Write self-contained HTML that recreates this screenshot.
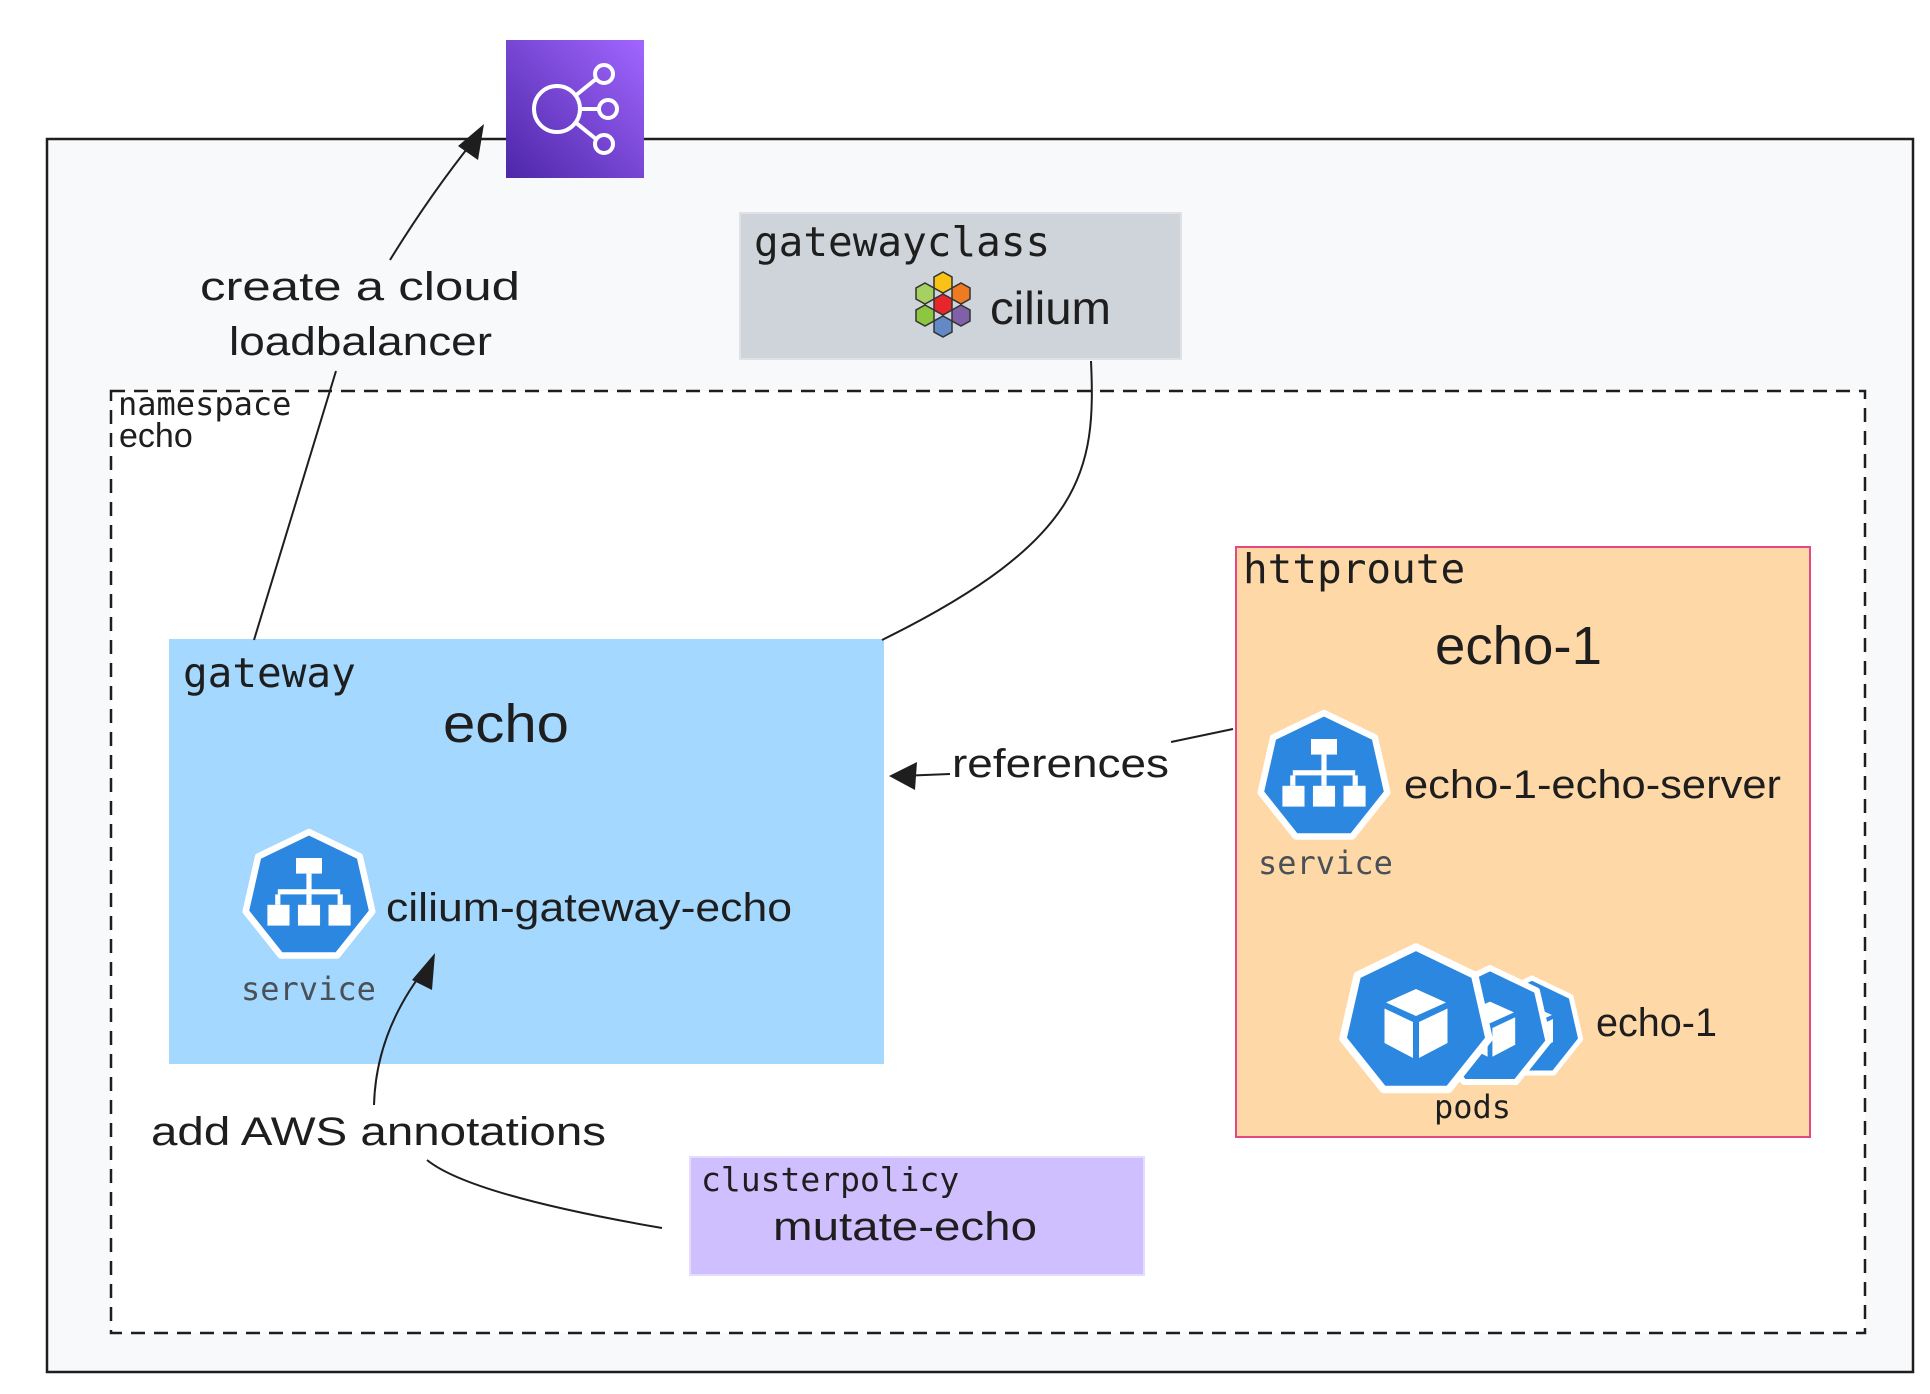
<!DOCTYPE html>
<html><head><meta charset="utf-8"><style>
html,body{margin:0;padding:0;background:#fff;}
svg{display:block;}
.m{font-family:"DejaVu Sans Mono","Liberation Mono",monospace;fill:#1e1e1e;}
.h{font-family:"Liberation Sans",sans-serif;fill:#1e1e1e;}
</style></head><body>
<svg width="1930" height="1394" viewBox="0 0 1930 1394" xmlns="http://www.w3.org/2000/svg">
<defs>
<linearGradient id="lb" x1="0" y1="1" x2="1" y2="0">
<stop offset="0" stop-color="#4d27a8"/><stop offset="1" stop-color="#a166ff"/></linearGradient>
<g id="hep"><polygon points="0,-50 39.1,-31.2 48.7,11.1 21.7,45 -21.7,45 -48.7,11.1 -39.1,-31.2" fill="#2b87e0" stroke="#fff" stroke-width="5" stroke-linejoin="round"/></g>
<g id="svc"><use href="#hep"/>
<g fill="#fff"><rect x="-10" y="-30" width="20" height="12"/><rect x="-2" y="-18" width="4" height="14"/><rect x="-24" y="-6" width="48" height="4"/>
<rect x="-26" y="-2" width="4" height="8"/><rect x="-2" y="-2" width="4" height="8"/><rect x="22" y="-2" width="4" height="8"/>
<rect x="-32" y="6" width="17" height="16"/><rect x="-8.5" y="6" width="17" height="16"/><rect x="15" y="6" width="17" height="16"/></g></g>
<g id="pod"><use href="#hep"/><g fill="#fff"><polygon points="0,-22 20,-13 0,-4 -20,-13"/><polygon points="-21,-9 -2,0 -2,24 -21,14"/><polygon points="21,-9 2,0 2,24 21,14"/></g></g>
</defs>
<rect x="47" y="139" width="1866" height="1233" fill="#f8f9fa" stroke="#1e1e1e" stroke-width="2.5"/>
<rect x="506" y="40" width="138" height="138" fill="url(#lb)"/>
<g fill="none" stroke="#fff" stroke-width="4">
<circle cx="557" cy="109" r="23"/><circle cx="604" cy="74" r="9"/><circle cx="608" cy="109" r="9"/><circle cx="604" cy="144" r="9"/>
<path d="M580 109 H599 M575 96 L596 79 M575 122 L596 139"/></g>
<rect x="740" y="213" width="441" height="146" fill="#ced4da" stroke="#dee2e6" stroke-width="2"/>
<text x="754" y="256" class="m" font-size="41">gatewayclass</text>
<g stroke="#333" stroke-width="1.5">
<polygon points="943,272 952,277 952,288 943,293 934,288 934,277" fill="#f8c315"/>
<polygon points="925,283 934,288 934,299 925,304 916,299 916,288" fill="#a7d063"/>
<polygon points="961,283 970,288 970,299 961,304 952,299 952,288" fill="#ee7a22"/>
<polygon points="943,294 952,299 952,310 943,315 934,310 934,299" fill="#e82629"/>
<polygon points="925,305 934,310 934,321 925,326 916,321 916,310" fill="#8dc63f"/>
<polygon points="961,305 970,310 970,321 961,326 952,321 952,310" fill="#8061a9"/>
<polygon points="943,316 952,321 952,332 943,337 934,332 934,321" fill="#6389c6"/>
</g>
<text x="990" y="324" class="h" font-size="46" textLength="121" lengthAdjust="spacingAndGlyphs">cilium</text>
<rect x="111" y="391" width="1754" height="942" fill="#fff" stroke="#1e1e1e" stroke-width="2.5" stroke-dasharray="14 9"/>
<rect x="115" y="393" width="190" height="62" fill="#fff"/>
<text x="118" y="415" class="m" font-size="32">namespace</text>
<text x="119" y="447" class="h" font-size="34">echo</text>
<rect x="169" y="639" width="715" height="425" fill="#a5d8ff"/>
<text x="183" y="687" class="m" font-size="41">gateway</text>
<text x="443" y="742" class="h" font-size="54" textLength="126" lengthAdjust="spacingAndGlyphs">echo</text>
<use href="#svc" transform="translate(309,897) scale(1.3)"/>
<text x="386" y="921" class="h" font-size="40" textLength="406" lengthAdjust="spacingAndGlyphs">cilium-gateway-echo</text>
<text x="241" y="1000" class="m" font-size="32" style="fill:#495057">service</text>
<rect x="1236" y="547" width="574" height="590" fill="#ffd8a8" stroke="#e64980" stroke-width="2"/>
<text x="1243" y="583" class="m" font-size="41">httproute</text>
<text x="1435" y="664" class="h" font-size="54" textLength="167" lengthAdjust="spacingAndGlyphs">echo-1</text>
<use href="#svc" transform="translate(1324,778) scale(1.3)"/>
<text x="1404" y="798" class="h" font-size="40" textLength="377" lengthAdjust="spacingAndGlyphs">echo-1-echo-server</text>
<text x="1258" y="874" class="m" font-size="32" style="fill:#495057">service</text>
<use href="#pod" transform="translate(1532,1028) scale(1.0)"/>
<use href="#pod" transform="translate(1490,1028) scale(1.2)"/>
<use href="#pod" transform="translate(1416,1022) scale(1.5)"/>
<text x="1596" y="1036" class="h" font-size="40" textLength="121" lengthAdjust="spacingAndGlyphs">echo-1</text>
<text x="1434" y="1118" class="m" font-size="32">pods</text>
<rect x="690" y="1157" width="454" height="118" fill="#d0bfff" stroke="#e5dbff" stroke-width="2"/>
<text x="701" y="1191" class="m" font-size="33">clusterpolicy</text>
<text x="773" y="1240" class="h" font-size="40" textLength="264" lengthAdjust="spacingAndGlyphs">mutate-echo</text>
<text x="200" y="300" class="h" font-size="40" textLength="320" lengthAdjust="spacingAndGlyphs">create a cloud</text>
<text x="229" y="355" class="h" font-size="40" textLength="263" lengthAdjust="spacingAndGlyphs">loadbalancer</text>
<text x="952" y="777" class="h" font-size="40" textLength="217" lengthAdjust="spacingAndGlyphs">references</text>
<text x="151" y="1145" class="h" font-size="40" textLength="455" lengthAdjust="spacingAndGlyphs">add AWS annotations</text>
<g fill="none" stroke="#1e1e1e" stroke-width="2">
<path d="M254 640 L336 371"/>
<path d="M390 260 Q430 195 474 140"/>
<path d="M1091 361 C1096 470 1085 540 882 640"/>
<path d="M1233 729 L1171 742"/>
<path d="M950 774 L900 776"/>
<path d="M374 1105 Q376 1030 428 965"/>
<path d="M427 1160 Q470 1195 662 1228"/>
</g>
<g fill="#1e1e1e">
<polygon points="484,124 478,160 458,146"/>
<polygon points="889,776 917,762 915,790"/>
<polygon points="435,953 432,990 412,980"/>
</g>
</svg>
</body></html>
